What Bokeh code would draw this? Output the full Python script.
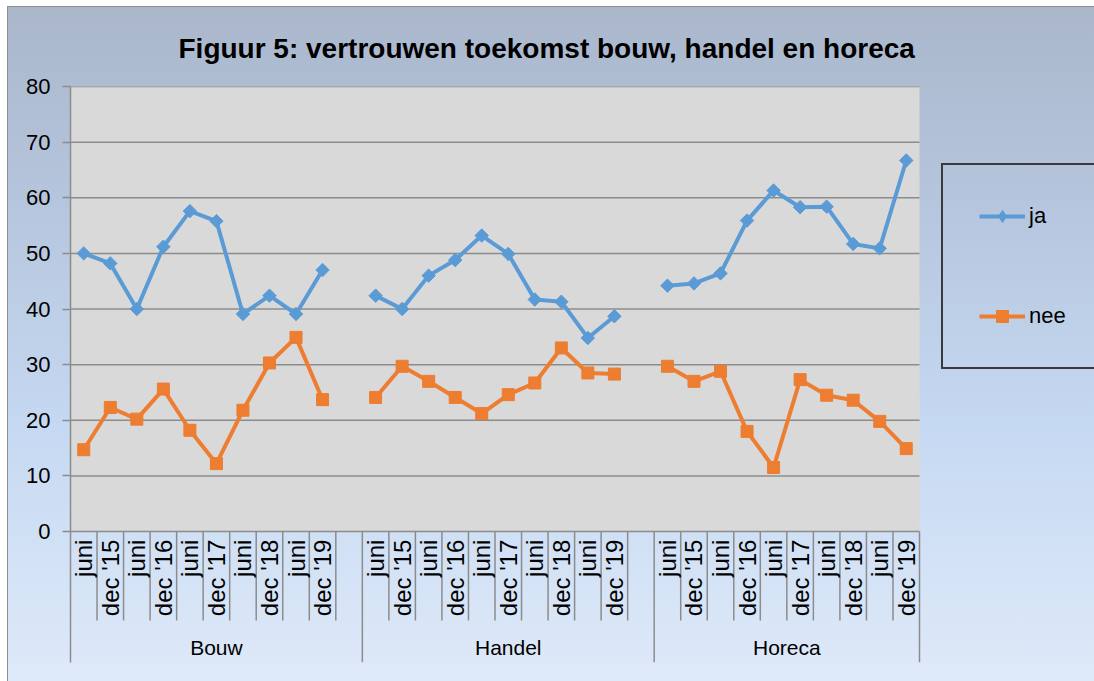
import numpy as np
from bokeh.plotting import figure
from bokeh.models import Range1d, FixedTicker, Legend, LegendItem, Title, BoxAnnotation
from bokeh.core.properties import value
from bokeh.embed import file_html
from bokeh.resources import INLINE

# ---- data ----
categories = ["juni", "dec '15", "juni", "dec '16", "juni", "dec '17",
              "juni", "dec '18", "juni", "dec '19"]
groups = ["Bouw", "Handel", "Horeca"]
ja_bouw = [50.0, 48.2, 40.0, 51.2, 57.6, 55.8, 39.1, 42.4, 39.1, 47.0]
nee_bouw = [14.7, 22.3, 20.2, 25.6, 18.2, 12.2, 21.8, 30.3, 34.9, 23.7]
ja_handel = [42.4, 40.0, 46.0, 48.8, 53.2, 49.9, 41.7, 41.3, 34.8, 38.7]
nee_handel = [24.1, 29.7, 27.0, 24.1, 21.2, 24.6, 26.7, 33.0, 28.5, 28.3]
ja_horeca = [44.2, 44.6, 46.4, 55.9, 61.3, 58.3, 58.4, 51.7, 50.9, 66.7]
nee_horeca = [29.7, 27.0, 28.8, 18.0, 11.5, 27.3, 24.5, 23.6, 19.8, 14.9]
y_ticks = [0, 10, 20, 30, 40, 50, 60, 70, 80]
title_text = "Figuur 5: vertrouwen toekomst bouw, handel en horeca"

ja_series = [ja_bouw, ja_handel, ja_horeca]
nee_series = [nee_bouw, nee_handel, nee_horeca]

FONT = "Liberation Sans"
GRID = "#8c8c8c"
BLUE = "#5b9bd5"
ORANGE = "#ed7d31"

n_cat = len(categories)
group_len = n_cat + 1                      # one blank slot after each group
total = group_len * len(groups) - 1        # 32 slots
slot_px = 849 / total                      # plot area is 849 px wide
x_end = total + 175 / slot_px              # frame continues under the legend

p = figure(width=1094, height=681,
           x_range=Range1d(0, x_end), y_range=Range1d(-23.55, 80),
           output_backend="svg", toolbar_location=None, x_axis_location=None,
           min_border_left=70, min_border_right=0, min_border_top=86,
           min_border_bottom=19)
p.border_fill_alpha = 0
p.background_fill_alpha = 0
p.outline_line_color = None
p.styles = {"background": (
    "linear-gradient(#8f8f8f,#8f8f8f) 7px 6px / 1px 100% no-repeat, "
    "linear-gradient(#8f8f8f,#8f8f8f) 7px 6px / 100% 1px no-repeat, "
    "linear-gradient(180deg, #aab7cb 0%, #b6c6de 30%, #c6d9f2 62%, #dfeaf9 100%) 8px 7px / 100% 100% no-repeat, "
    "#ffffff")}

# plot area
p.add_layout(BoxAnnotation(left=0, right=total, bottom=0, top=80, fill_color="#d9d9d9",
                           fill_alpha=1, line_color=None, level="image"))

p.grid.visible = False
p.segment(x0=0, y0=y_ticks, x1=total, y1=y_ticks, line_color=GRID, line_width=1.5)

ax = p.yaxis[0]
ax.ticker = FixedTicker(ticks=y_ticks)
ax.axis_line_color = GRID
ax.axis_line_width = 1.5
ax.major_tick_line_color = GRID
ax.major_tick_line_width = 1.5
ax.major_tick_out = 8
ax.major_tick_in = 0
ax.minor_tick_line_color = None
ax.major_label_text_font = FONT
ax.major_label_text_font_size = "22px"
ax.major_label_text_color = "#000000"
ax.major_label_standoff = 12

# category positions
xs, lab = [], []
for g in range(len(groups)):
    for i in range(n_cat):
        xs.append(g * group_len + i + 0.5)
        lab.append(categories[i])

# separators
short_x, long_x = [], []
for b in range(1, total + 1):
    if b % group_len == 0 or b == total:
        long_x.append(b)
    else:
        short_x.append(b)
p.segment(x0=short_x, y0=0, x1=short_x, y1=-16.0, line_color=GRID, line_width=1.5)
p.segment(x0=long_x, y0=0, x1=long_x, y1=-23.55, line_color=GRID, line_width=1.5)

p.text(x=xs, y=-1.45, text=lab, angle=np.pi / 2, text_align="right",
       text_baseline="middle", text_font=value(FONT), text_font_size="24px",
       text_color="#000000")

gx = [g * group_len + min(group_len, total - g * group_len) / 2 for g in range(len(groups))]
p.text(x=gx, y=-20.9, text=groups, text_align="center", text_baseline="middle",
       text_font=value(FONT), text_font_size="21px", text_color="#000000")

# series with gaps between groups
def flat(series):
    x_all, y_all = [], []
    for g, vals in enumerate(series):
        for i, v in enumerate(vals):
            x_all.append(g * group_len + i + 0.5)
            y_all.append(v)
        x_all.append(np.nan)
        y_all.append(np.nan)
    return x_all, y_all

jx, jy = flat(ja_series)
nx, ny = flat(nee_series)
ja_line = p.line(jx, jy, line_color=BLUE, line_width=4)
ja_pts = p.scatter(jx, jy, marker="square", angle=np.pi / 4, size=9.5,
                   fill_color=BLUE, line_color=BLUE)
nee_line = p.line(nx, ny, line_color=ORANGE, line_width=4)
nee_pts = p.scatter(nx, ny, marker="square", size=12, fill_color=ORANGE,
                    line_color=ORANGE)
# legend-only diamond (hidden in the plot)
ja_leg = p.scatter(jx, jy, marker="diamond", size=14, fill_color=BLUE,
                   line_color=BLUE, visible=False)

legend = Legend(items=[LegendItem(label="ja", renderers=[ja_line, ja_leg]),
                       LegendItem(label="nee", renderers=[nee_line, nee_pts])],
                location=(871, 293), margin=0, padding=36, spacing=70, glyph_height=30,
                glyph_width=46, label_height=30, label_width=70, label_standoff=4,
                label_text_font=FONT, label_text_font_size="22px",
                label_text_color="#000000", border_line_color="#3a3a3a",
                border_line_alpha=1.0, border_line_width=2,
                background_fill_alpha=0, inactive_fill_alpha=0)
p.add_layout(legend)

p.add_layout(Title(text=title_text, align="left", offset=108, vertical_align="middle",
                   standoff=44, text_font=FONT, text_font_size="28px",
                   text_font_style="bold", text_color="#000000"), "above")

open("out.html", "w").write(file_html(p, INLINE))
